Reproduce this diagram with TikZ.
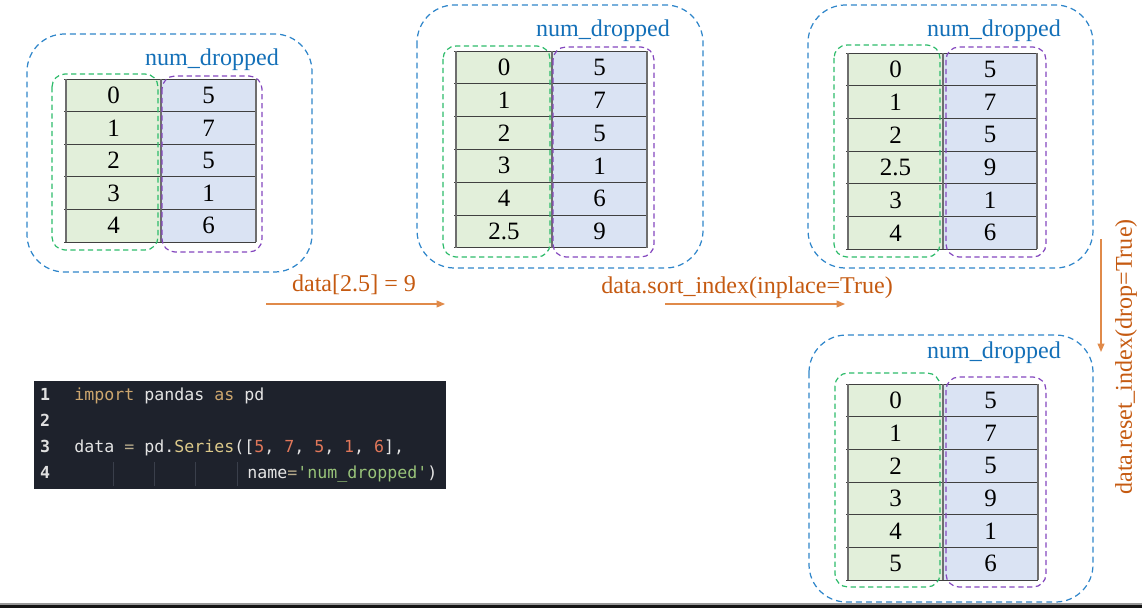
\documentclass[tikz,border=0pt]{standalone}
\usepackage{fontspec}
\setmainfont{Liberation Serif}
\setmonofont{DejaVu Sans Mono}
\usetikzlibrary{arrows.meta}
\definecolor{boxblue}{HTML}{2F86CA}
\definecolor{labblue}{HTML}{1470B8}
\definecolor{idxgreen}{HTML}{2DBB6A}
\definecolor{valpurple}{HTML}{8447BE}
\definecolor{idxfill}{HTML}{E2EFDA}
\definecolor{valfill}{HTML}{DAE3F3}
\definecolor{oporange}{HTML}{C55A11}
\definecolor{arrorange}{HTML}{E08A4A}
\definecolor{gridline}{HTML}{404040}
\definecolor{edgeline}{HTML}{6E6E6E}
\definecolor{codebg}{HTML}{1E222C}
\definecolor{codefg}{HTML}{E4E4E4}
\definecolor{codenum}{HTML}{E0E0E0}
\definecolor{codekw}{HTML}{CDA66E}
\definecolor{codeop}{HTML}{B9AC8C}
\definecolor{codefn}{HTML}{DCC98A}
\definecolor{codenumlit}{HTML}{E0775A}
\definecolor{codestr}{HTML}{98C379}
\definecolor{codeguide}{HTML}{3A3F4B}
\newcommand\seriestable[8]{%
  \pgfmathsetmacro\ybot{#5+#8*#6}%
  \fill[idxfill] (#2,#5) rectangle (#3,\ybot);
  \fill[valfill] (#3,#5) rectangle (#4,\ybot);
  \draw[rowline] (#2-2,#5) -- (#4,#5);
  \foreach \idx/\val [count=\r] in {#7}{%
    \pgfmathsetmacro\ya{#5+(\r-1)*#6}%
    \pgfmathsetmacro\yb{#5+\r*#6}%
    \node[celltext] (#1i\r) at ({(#2+#3)/2},{(\ya+\yb)/2}) {\idx};
    \node[celltext] (#1v\r) at ({(#3+#4)/2},{(\ya+\yb)/2}) {\val};
    \draw[rowline] (#2-2,\yb) -- (#4,\yb);
  }
  \draw[colline] (#2,#5) -- (#2,\ybot);
  \draw[colline] (#3,#5) -- (#3,\ybot);
  \draw[colline] (#4,#5) -- (#4,\ybot);
}
\begin{document}
\begin{tikzpicture}[x=0.02cm,y=-0.02cm,
  outerbox/.style={draw=boxblue, dash pattern=on 3.4pt off 2.3pt, line width=0.7pt, rounded corners=0.75cm},
  idxbox/.style={draw=idxgreen, dash pattern=on 3pt off 2pt, line width=0.7pt, rounded corners=0.26cm},
  valbox/.style={draw=valpurple, dash pattern=on 3pt off 2pt, line width=0.7pt, rounded corners=0.26cm},
  celltext/.style={font=\fontsize{14.2}{16}\selectfont, inner sep=0pt, text=black},
  rowline/.style={draw=gridline, line width=0.55pt},
  colline/.style={draw=edgeline, line width=0.9pt},
  namelab/.style={text=labblue, font=\fontsize{13.7}{15}\selectfont, inner sep=0pt},
  oplabel/.style={text=oporange, font=\fontsize{13.7}{15}\selectfont, inner sep=0pt},
  oparrow/.style={draw=arrorange, line width=0.7pt, -{Triangle[length=1.7mm,width=1.4mm]}},
  codeline/.style={font=\ttfamily\fontsize{9.45}{11}\selectfont, text=codefg, inner sep=0pt, anchor=base west},
  codeno/.style={font=\ttfamily\bfseries\fontsize{9.45}{11}\selectfont, text=codenum, inner sep=0pt, anchor=base}
]
\useasboundingbox (0,0) rectangle (1142,608);

% ---------- table 1 ----------
\seriestable{ta}{66}{161}{256}{79}{32.6}{0/5,1/7,2/5,3/1,4/6}{5}
\draw[outerbox] (27,34) rectangle (312,272);
\draw[idxbox] (52,74) rectangle (158,250);
\draw[valbox] (162,76) rectangle (262,252);
\node[namelab] (ta-name) at (212,60) {num\_dropped};

% ---------- table 2 ----------
\seriestable{tb}{456}{552}{647}{51}{32.8}{0/5,1/7,2/5,3/1,4/6,2.5/9}{6}
\draw[outerbox] (417,5) rectangle (703,268);
\draw[idxbox] (443,46) rectangle (550,257);
\draw[valbox] (553,47) rectangle (654,257);
\node[namelab] (tb-name) at (603,31) {num\_dropped};

% ---------- table 3 ----------
\seriestable{tc}{848}{943}{1037}{53}{32.7}{0/5,1/7,2/5,2.5/9,3/1,4/6}{6}
\draw[outerbox] (808,5) rectangle (1093,268);
\draw[idxbox] (834,45) rectangle (940,257);
\draw[valbox] (946,47) rectangle (1046,257);
\node[namelab] (tc-name) at (994,31) {num\_dropped};

% ---------- table 4 ----------
\seriestable{td}{848}{943}{1038}{384}{32.7}{0/5,1/7,2/5,3/9,4/1,5/6}{6}
\draw[outerbox] (809,335) rectangle (1093,602);
\draw[idxbox] (835,373) rectangle (940,587);
\draw[valbox] (946,377) rectangle (1046,587);
\node[namelab] (td-name) at (994,353) {num\_dropped};

% ---------- operations ----------
\coordinate (a1s) at (266,304);
\coordinate (a1e) at (445,304);
\draw[oparrow] (a1s) -- (a1e);
\node[oplabel] (op1) at (354,285) {data[2.5] = 9};

\coordinate (a2s) at (665,304);
\coordinate (a2e) at (845,304);
\draw[oparrow] (a2s) -- (a2e);
\node[oplabel] (op2) at (747,288) {data.sort\_index(inplace=True)};

\coordinate (a3s) at (1101,239);
\coordinate (a3e) at (1101,352);
\draw[oparrow] (a3s) -- (a3e);
\node[oplabel, rotate=90] (op3) at (1126,357) {data.reset\_index(drop=True)};

% ---------- code ----------
\fill[codebg] (34,381) rectangle (446,489);
\foreach \gx in {113,154,195,237}{\draw[codeguide, line width=0.4pt] (\gx,462) -- (\gx,486);}
\node[codeno] (n1) at (45,400) {1};
\node[codeno] (n2) at (45,426) {2};
\node[codeno] (n3) at (45,452) {3};
\node[codeno] (n4) at (45,478) {4};
\node[codeline] (c1) at (74,400) {\textcolor{codekw}{import} pandas \textcolor{codekw}{as} pd};
\node[codeline] (c3) at (74,452) {data \textcolor{codeop}{=} pd.\textcolor{codefn}{Series}([\textcolor{codenumlit}{5}, \textcolor{codenumlit}{7}, \textcolor{codenumlit}{5}, \textcolor{codenumlit}{1}, \textcolor{codenumlit}{6}],};
\node[codeline] (c4) at (247,478) {name\textcolor{codeop}{=}\textcolor{codestr}{'num\_dropped'})};

% ---------- bottom bar ----------
\fill[black!40] (0,603) rectangle (1142,605);
\fill[black!92] (0,605) rectangle (1142,608);
\end{tikzpicture}
\end{document}
